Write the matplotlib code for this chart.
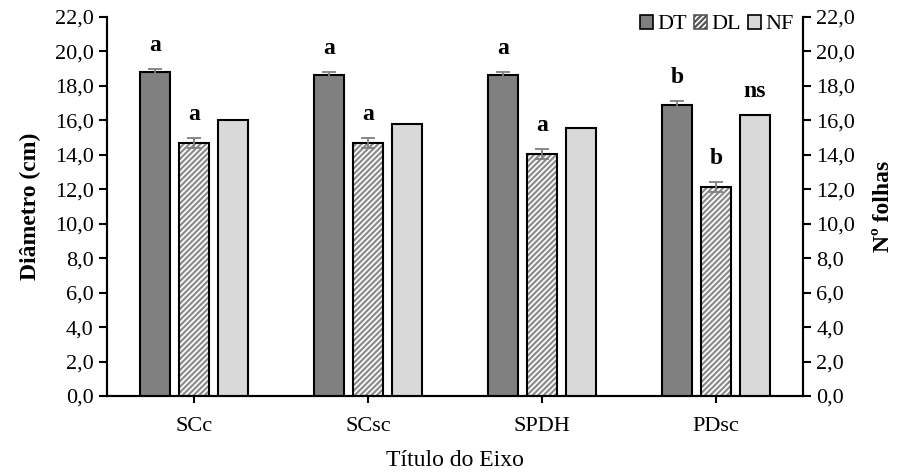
import numpy as np
import matplotlib.pyplot as plt
from matplotlib.ticker import FuncFormatter
from matplotlib.patches import Patch

plt.rcParams['font.family'] = ['Liberation Serif', 'DejaVu Serif']
plt.rcParams['hatch.linewidth'] = 1.6

# Dados
categorias = ["SCc", "SCsc", "SPDH", "PDsc"]
dt = [18.8, 18.65, 18.65, 16.9]
dl = [14.7, 14.7, 14.05, 12.15]
nf = [16.0, 15.8, 15.55, 16.3]
dt_err = [0.18, 0.18, 0.18, 0.2]
dl_err = [0.3, 0.3, 0.3, 0.3]
letras_dt = ["a", "a", "a", "b"]
letras_dl = ["a", "a", "a", "b"]
letras_nf = ["", "", "", "ns"]

x = np.arange(len(categorias))
w = 0.172
off = 0.224

fig = plt.figure(figsize=(9.01, 4.74), dpi=100)
ax = fig.add_axes([107/901, 1-396/474, (803-107)/901, (396-17)/474])
ax2 = ax.twinx()

erro = dict(ecolor='#7f7f7f', capsize=5, elinewidth=1.3, capthick=1.3, zorder=5)
ax.bar(x - off, dt, w, color='#808080', edgecolor='black', linewidth=1.5,
       yerr=dt_err, error_kw=erro, zorder=3)
# hachura cinza: desenha primeiro a hachura, depois o contorno preto
ax.bar(x, dl, w, color='white', edgecolor='#8c8c8c', linewidth=0, hatch='//////',
       zorder=3)
ax.bar(x, dl, w, color='none', edgecolor='black', linewidth=1.5,
       yerr=dl_err, error_kw=erro, zorder=4)
ax.bar(x + off, nf, w, color='#d9d9d9', edgecolor='black', linewidth=1.5,
       zorder=3)

for i in range(len(categorias)):
    ax.text(x[i] - off, dt[i] + dt_err[i] + 0.75, letras_dt[i], ha='center',
            va='bottom', fontsize=17, fontweight='bold')
    ax.text(x[i], dl[i] + dl_err[i] + 0.75, letras_dl[i], ha='center',
            va='bottom', fontsize=17, fontweight='bold')
    if letras_nf[i]:
        ax.text(x[i] + off, nf[i] + 0.75, letras_nf[i], ha='center',
                va='bottom', fontsize=17, fontweight='bold')

fmt = FuncFormatter(lambda v, p: f"{v:.1f}".replace('.', ','))
for a in (ax, ax2):
    a.set_ylim(0, 22)
    a.set_yticks(np.arange(0, 23, 2))
    a.yaxis.set_major_formatter(fmt)
    a.tick_params(axis='y', labelsize=16, direction='out', length=6, width=1.5)
    a.spines['top'].set_visible(False)
    for s in ('left', 'right', 'bottom'):
        a.spines[s].set_linewidth(1.5)

ax.set_xlim(-0.5, 3.5)
ax.set_xticks(x)
ax.set_xticklabels(categorias)
ax.tick_params(axis='x', labelsize=16, direction='out', length=5, width=1.5, pad=10)

ax.set_ylabel("Diâmetro (cm)", fontsize=17, fontweight='bold', labelpad=10)
ax2.set_ylabel("Nº folhas", fontsize=17, fontweight='bold', labelpad=13)
ax.set_xlabel("Título do Eixo", fontsize=17, labelpad=10)

# legenda com a mesma aparência das barras
handles = [Patch(facecolor='#808080', edgecolor='black', linewidth=1.2),
           Patch(facecolor='white', edgecolor='#555555', linewidth=1.2, hatch='//////'),
           Patch(facecolor='#d9d9d9', edgecolor='black', linewidth=1.2)]
ax.legend(handles, ['DT', 'DL', 'NF'], loc='upper right', ncol=3, frameon=False,
          fontsize=16, handlelength=0.6, handleheight=0.6, handletextpad=0.2,
          columnspacing=0.3, borderaxespad=0.0, bbox_to_anchor=(1.0, 1.03))

fig.savefig("out.png", dpi=100)
